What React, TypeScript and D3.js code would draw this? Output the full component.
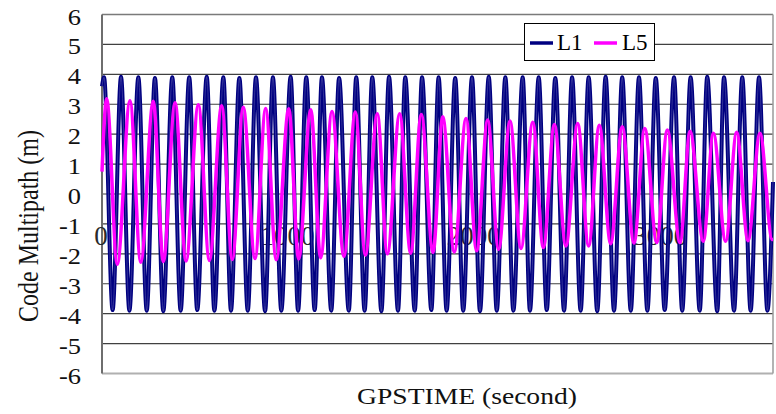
import React from "react";
import * as d3 from "d3";

// GPS time (s) of the L1 code-multipath maxima / minima and their values (m)
const l1PeakTimes = [11, 102, 195, 284, 377, 468, 562, 651, 737, 826, 917, 1012, 1096, 1180, 1272, 1364, 1450, 1540, 1627, 1717, 1806, 1895, 1985, 2075, 2164, 2257, 2343, 2432, 2522, 2611, 2702, 2791, 2881, 2971, 3069, 3158, 3247, 3337, 3435, 3525];
const l1PeakValues = [3.9, 3.92, 3.9, 3.88, 3.9, 3.9, 3.92, 3.9, 3.88, 3.9, 3.9, 3.92, 3.9, 3.9, 3.88, 3.9, 3.9, 3.92, 3.9, 3.9, 3.9, 3.88, 3.9, 3.92, 3.9, 3.9, 3.9, 3.88, 3.9, 3.9, 3.92, 3.9, 3.9, 3.88, 3.9, 3.9, 3.92, 3.9, 3.9, 3.9];
const l1TroughTimes = [57, 147, 240, 329, 422, 511, 603, 692, 782, 875, 962, 1052, 1141, 1230, 1324, 1409, 1499, 1588, 1678, 1767, 1849, 1938, 2028, 2118, 2207, 2296, 2386, 2479, 2568, 2657, 2747, 2837, 2926, 3019, 3113, 3207, 3301, 3391, 3480, 3570];
const l1TroughValues = [-3.88, -3.9, -3.9, -3.92, -3.9, -3.88, -3.9, -3.9, -3.9, -3.92, -3.9, -3.9, -3.88, -3.9, -3.9, -3.9, -3.92, -3.9, -3.9, -3.88, -3.9, -3.9, -3.92, -3.9, -3.9, -3.9, -3.88, -3.9, -3.9, -3.92, -3.9, -3.9, -3.9, -3.88, -3.9, -3.9, -3.92, -3.9, -3.9, -3.9];
const l1Start = 3.6;
const l1End = 0.4;

// GPS time (s) of the L5 code-multipath maxima / minima and their values (m)
const l5PeakTimes = [25, 150, 275, 392, 517, 642, 758, 878, 1002, 1120, 1234, 1359, 1477, 1597, 1713, 1828, 1953, 2069, 2189, 2311, 2427, 2552, 2668, 2791, 2912, 3033, 3155, 3280, 3405, 3530];
const l5PeakValues = [3.18, 3.12, 3.1, 3.05, 2.98, 2.95, 2.9, 2.86, 2.85, 2.82, 2.76, 2.74, 2.68, 2.68, 2.66, 2.58, 2.52, 2.47, 2.44, 2.4, 2.32, 2.36, 2.3, 2.25, 2.19, 2.14, 2.1, 2.03, 2.06, 2.03];
const l5TroughTimes = [82, 208, 329, 451, 576, 699, 821, 935, 1055, 1173, 1298, 1413, 1531, 1656, 1776, 1890, 2010, 2128, 2248, 2368, 2489, 2611, 2729, 2854, 2976, 3101, 3226, 3346, 3466, 3596];
const l5TroughValues = [-2.35, -2.28, -2.26, -2.24, -2.22, -2.19, -2.16, -2.2, -2.17, -2.13, -2.08, -2.05, -2.0, -1.98, -1.95, -1.94, -1.9, -1.85, -1.82, -1.79, -1.74, -1.74, -1.66, -1.64, -1.62, -1.62, -1.58, -1.58, -1.56, -1.52];
const l5Start = 0.75;
const l5End = -1.52;

const yTicks = [6, 5, 4, 3, 2, 1, 0, -1, -2, -3, -4, -5, -6];
const xTicks = [0, 1000, 2000, 3000];
const xMax = 3600;

const W = 776;
const H = 414;
const plot = { left: 102, right: 773, top: 14.5, bottom: 373.5 };

type Pt = [number, number];

function buildSeries(
  start: number,
  peakT: number[],
  peakV: number[],
  troughT: number[],
  troughV: number[],
  end: number
): Pt[] {
  const pts: Pt[] = [];
  peakT.forEach((t, i) => pts.push([t, peakV[i]]));
  troughT.forEach((t, i) => pts.push([t, troughV[i]]));
  pts.sort((a, b) => a[0] - b[0]);
  const out: Pt[] = [[0, start], ...pts.filter((p) => p[0] > 0 && p[0] < xMax)];
  out.push([xMax, end]);
  return out;
}

export default function App() {
  const x = d3.scaleLinear().domain([0, xMax]).range([plot.left, plot.right]);
  const y = d3.scaleLinear().domain([-6, 6]).range([plot.bottom, plot.top]);

  const line = d3
    .line<Pt>()
    .x((d) => x(d[0]))
    .y((d) => y(d[1]))
    .curve(d3.curveMonotoneX);

  const l1 = buildSeries(l1Start, l1PeakTimes, l1PeakValues, l1TroughTimes, l1TroughValues, l1End);
  const l5 = buildSeries(l5Start, l5PeakTimes, l5PeakValues, l5TroughTimes, l5TroughValues, l5End);

  const font = "'Liberation Serif', 'Times New Roman', serif";

  return (
    <svg
      width={W}
      height={H}
      style={{ position: "absolute", left: 0, top: 0, background: "#fff" }}
      fontFamily={font}
    >
      <rect x={0} y={0} width={W} height={H} fill="#fff" />

      {/* horizontal gridlines */}
      {yTicks
        .filter((v) => v > -6 && v < 6)
        .map((v) => (
          <line
            key={"g" + v}
            x1={plot.left}
            x2={plot.right}
            y1={y(v)}
            y2={y(v)}
            stroke="#404040"
            strokeWidth={1.2}
          />
        ))}

      {/* plot frame */}
      <line x1={plot.left} x2={plot.right} y1={y(6)} y2={y(6)} stroke="#7a7a7a" strokeWidth={1.5} />
      <line x1={plot.left} x2={plot.right} y1={y(-6)} y2={y(-6)} stroke="#b0b0b0" strokeWidth={2} />
      <line x1={plot.right} x2={plot.right} y1={y(6)} y2={y(-6)} stroke="#9a9a9a" strokeWidth={1.5} />
      <line x1={plot.left} x2={plot.left} y1={y(6)} y2={y(-6)} stroke="#6e6e6e" strokeWidth={2} />

      {/* y tick labels */}
      {yTicks.map((v) => (
        <text
          key={"yl" + v}
          transform={`translate(81,${y(v) + 10}) scale(1.15,1)`}
          textAnchor="end"
          fontSize={23}
          fill="#111"
        >
          {v}
        </text>
      ))}

      {/* x tick labels, sitting inside the plot */}
      {xTicks.map((t) => (
        <text
          key={"xl" + t}
          x={x(t) - 1}
          y={245}
          textAnchor="middle"
          fontSize={27}
          fill="#2a2a2a"
        >
          {t}
        </text>
      ))}

      {/* series */}
      <path d={line(l1) || ""} fill="none" stroke="#000080" strokeWidth={4} strokeLinejoin="round" />
      <path d={line(l1) || ""} fill="none" stroke="#8a8ac4" strokeWidth={0.8} opacity={0.45} />
      <path d={line(l5) || ""} fill="none" stroke="#ff00ff" strokeWidth={3.5} strokeLinejoin="round" />

      {/* legend */}
      <g>
        <rect x={524.5} y={23.5} width={130} height={37} fill="#fff" stroke="#000" strokeWidth={1} />
        <line x1={530} x2={553} y1={43} y2={43} stroke="#000080" strokeWidth={3.5} />
        <text x={557} y={50} fontSize={23} fill="#000">L1</text>
        <line x1={594} x2={617} y1={43} y2={43} stroke="#ff00ff" strokeWidth={3.5} />
        <text x={622} y={50} fontSize={23} fill="#000">L5</text>
      </g>

      {/* axis titles */}
      <text
        transform={`translate(38,226) scale(1.2,1) rotate(-90)`}
        textAnchor="middle"
        fontSize={24}
        fill="#111"
      >
        Code Multipath (m)
      </text>
      <text
        transform={`translate(467,404) scale(1.2,1)`}
        textAnchor="middle"
        fontSize={23}
        fill="#111"
      >
        GPSTIME (second)
      </text>
    </svg>
  );
}
